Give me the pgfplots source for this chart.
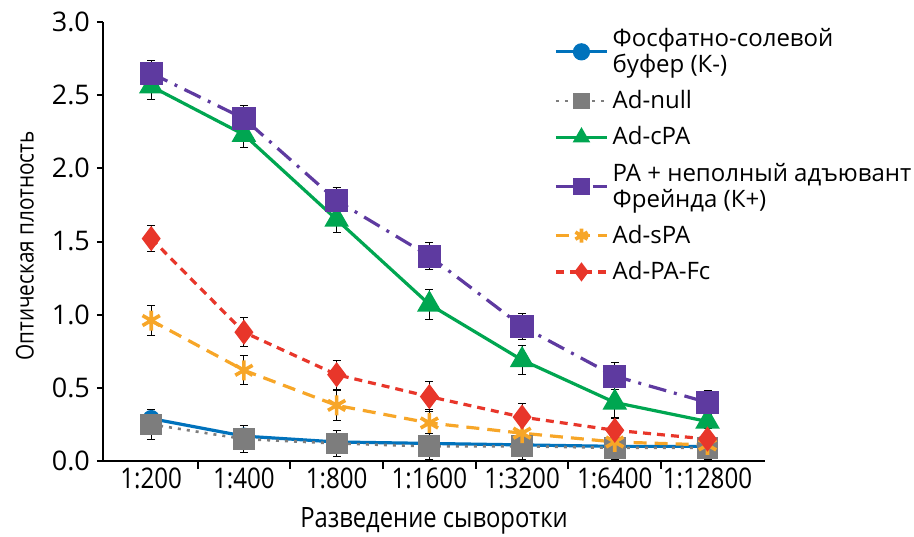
\documentclass[border=0pt]{standalone}
\usepackage{fontspec}
\setmainfont{Open Sans}
\newfontfamily\condfont[FakeStretch=0.85]{Open Sans}
\usepackage{pgfplots}
\pgfplotsset{compat=1.18}
\definecolor{cblue}{RGB}{0,114,188}
\definecolor{cgray}{RGB}{125,125,125}
\definecolor{cgreen}{RGB}{0,166,81}
\definecolor{cpurple}{RGB}{94,58,160}
\definecolor{corange}{RGB}{247,166,40}
\definecolor{cred}{RGB}{232,54,42}
\begin{document}
\begin{tikzpicture}
\begin{axis}[
  scale only axis, width=331pt, height=219.5pt,
  xmin=-0.52, xmax=6.62, ymin=0, ymax=3,
  axis lines=left,
  axis line style={-, line width=1.4pt, black},
  tick align=outside,
  xtick={0,1,2,3,4,5,6},
  xticklabels={1:200,1:400,1:800,1:1600,1:3200,1:6400,1:12800},
  major x tick style={draw=none},
  minor xtick={0.5,1.5,2.5,3.5,4.5,5.5},
  minor tick length=4pt,
  minor x tick style={line width=1pt, black},
  ytick={0,0.5,1,1.5,2,2.5,3},
  major tick length=3pt,
  major y tick style={line width=1pt, black},
  /pgf/number format/assume math mode=true,
  yticklabel style={font=\fontsize{13.5}{15}\selectfont},
  yticklabel={\pgfmathprintnumber[fixed,fixed zerofill,precision=1]{\tick}},
  x tick label style={font=\condfont\fontsize{14.2}{16}\selectfont, yshift=3pt},
  xlabel={Разведение сыворотки},
  xlabel style={at={(axis description cs:0.5,-0.137)}, anchor=center, font=\condfont\fontsize{14}{16}\selectfont},
  ylabel={Оптическая плотность},
  ylabel style={at={(axis description cs:-0.118,0.49)}, anchor=center, font=\condfont\fontsize{12.2}{14}\selectfont},
  legend style={at={(axis description cs:0.672,1.005)}, anchor=north west, draw=none, fill=none,
    font=\fontsize{12}{13}\selectfont, nodes={align=left}, row sep=3.5pt},
  legend cell align=left,
  legend image code/.code={\draw[mark repeat=2,mark phase=2, mark size=3.5pt] plot coordinates {(0cm,0cm) (0.45cm,0cm) (0.9cm,0cm)};},
  error bars/y dir=both, error bars/y explicit,
  error bars/error bar style={black, line width=0.5pt, solid},
  error bars/error mark options={black, line width=0.5pt, rotate=90, mark size=2pt, solid},
]
\addplot[cblue, line width=1.6pt, mark=*, mark size=3.5pt, mark options={solid}] table[x=x,y=y,y error=e] {
x y e
0 0.29 0.03
1 0.17 0.03
2 0.13 0.03
3 0.12 0.03
4 0.11 0.02
5 0.10 0.02
6 0.10 0.02
};
\addlegendentry{Фосфатно-солевой\\буфер (К-)}
\addplot[cgray, line width=1.3pt, dash pattern=on 1.5pt off 3pt, mark=square*, mark size=4.8pt, mark options={solid}] table[x=x,y=y,y error=e] {
x y e
0 0.25 0.10
1 0.15 0.09
2 0.12 0.09
3 0.10 0.09
4 0.10 0.09
5 0.09 0.08
6 0.09 0.08
};
\addlegendentry{Ad-null}
\addplot[cgreen, line width=1.6pt, mark=triangle*, mark size=5.5pt, mark options={solid}] table[x=x,y=y,y error=e] {
x y e
0 2.56 0.09
1 2.23 0.09
2 1.65 0.09
3 1.07 0.10
4 0.69 0.10
5 0.40 0.10
6 0.27 0.08
};
\addlegendentry{Ad-cPA}
\addplot[cpurple, line width=1.6pt, dash pattern=on 9pt off 4pt on 1.5pt off 4pt, mark=square*, mark size=5pt, mark options={solid}] table[x=x,y=y,y error=e] {
x y e
0 2.65 0.09
1 2.34 0.09
2 1.78 0.09
3 1.40 0.09
4 0.92 0.09
5 0.58 0.09
6 0.40 0.08
};
\addlegendentry{PA + неполный адъювант\\Фрейнда (К+)}
\addplot[corange, line width=1.6pt, dash pattern=on 6.5pt off 4pt, mark=asterisk, mark size=5pt, mark options={solid, line width=1.8pt}] table[x=x,y=y,y error=e] {
x y e
0 0.96 0.10
1 0.62 0.10
2 0.38 0.10
3 0.26 0.09
4 0.19 0.08
5 0.13 0.08
6 0.11 0.07
};
\addlegendentry{Ad-sPA}
\addplot[cred, line width=1.6pt, dash pattern=on 4pt off 3pt, mark=diamond*, mark size=5pt, mark options={solid}] table[x=x,y=y,y error=e] {
x y e
0 1.52 0.09
1 0.88 0.10
2 0.59 0.10
3 0.44 0.10
4 0.30 0.09
5 0.21 0.08
6 0.15 0.07
};
\addlegendentry{Ad-PA-Fc}
\end{axis}
\pgfresetboundingbox
\path[use as bounding box] (-51.5pt,-37.5pt) rectangle (405.5pt,230.5pt);
\end{tikzpicture}
\end{document}
